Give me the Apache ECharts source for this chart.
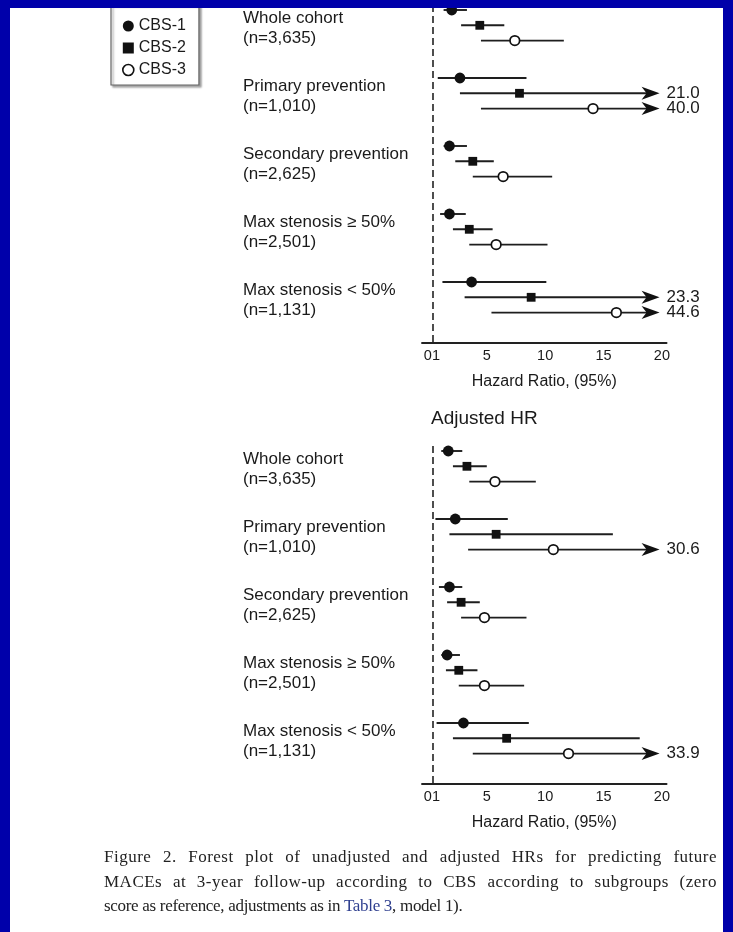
<!DOCTYPE html>
<html>
<head>
<meta charset="utf-8">
<script src="https://cdn.jsdelivr.net/npm/echarts@6/dist/echarts.min.js"></script>
<style>
  html, body { margin: 0; padding: 0; background: #fff; }
  #chart { position: absolute; left: 0; top: 0; width: 733px; height: 932px; }
  #caption {
    position: absolute; left: 104px; top: 845px; width: 613px;
    font-family: "Liberation Serif", "Times New Roman", serif;
    font-size: 17px; line-height: 24.5px; color: #222;
  }
  #caption .j { text-align: justify; text-align-last: justify; letter-spacing: 0.5px; }
  #caption .l3 { letter-spacing: -0.3px; white-space: nowrap; }
  #caption .tbl { color: #2f3f8f; }
  .frame { position: absolute; background: #0000aa; z-index: 10; }
</style>
</head>
<body>
<div id="chart"></div>
<div id="caption">
  <div class="j">Figure 2. Forest plot of unadjusted and adjusted HRs for predicting future</div>
  <div class="j">MACEs at 3-year follow-up according to CBS according to subgroups (zero</div>
  <div class="l3">score as reference, adjustments as in <span class="tbl">Table 3</span>, model 1).</div>
</div>
<div class="frame" style="left:0;top:0;width:733px;height:8px;"></div>
<div class="frame" style="left:0;top:0;width:10px;height:932px;"></div>
<div class="frame" style="left:723px;top:0;width:10px;height:932px;"></div>
<script>
// ---------- data ----------
const groups = ['Whole cohort', 'Primary prevention', 'Secondary prevention', 'Max stenosis \u2265 50%', 'Max stenosis < 50%'];
const groupN = ['(n=3,635)', '(n=1,010)', '(n=2,625)', '(n=2,501)', '(n=1,131)'];
const levels = ['CBS-1', 'CBS-2', 'CBS-3'];

// Unadjusted HR (top panel)
const unadjCBS1_HR = [2.0, 2.7, 1.8, 1.8, 3.7];
const unadjCBS1_lo = [1.3, 0.8, 1.3, 1.0, 1.2];
const unadjCBS1_hi = [3.3, 8.4, 3.3, 3.2, 10.1];
const unadjCBS2_HR = [4.4, 7.8, 3.8, 3.5, 8.8];
const unadjCBS2_lo = [2.8, 2.7, 2.3, 2.1, 3.1];
const unadjCBS2_hi = [6.5, 21.0, 5.6, 5.5, 23.3];
const unadjCBS3_HR = [7.4, 14.1, 6.4, 5.8, 16.1];
const unadjCBS3_lo = [4.5, 4.5, 3.8, 3.5, 5.4];
const unadjCBS3_hi = [11.6, 40.0, 10.6, 10.2, 44.6];

// Adjusted HR (bottom panel)
const adjCBS1_HR = [1.7, 2.3, 1.8, 1.6, 3.0];
const adjCBS1_lo = [1.1, 0.6, 0.9, 1.1, 0.7];
const adjCBS1_hi = [2.9, 6.8, 2.9, 2.7, 8.6];
const adjCBS2_HR = [3.3, 5.8, 2.8, 2.6, 6.7];
const adjCBS2_lo = [2.1, 1.8, 1.6, 1.5, 2.1];
const adjCBS2_hi = [5.0, 15.8, 4.4, 4.2, 18.1];
const adjCBS3_HR = [5.7, 10.7, 4.8, 4.8, 12.0];
const adjCBS3_lo = [3.5, 3.4, 2.8, 2.6, 3.8];
const adjCBS3_hi = [9.2, 30.6, 8.4, 8.2, 33.9];

// axis ticks
const xTickValues = [0.3, 5, 10, 15, 20];
const xTickLabels = ['01', '5', '10', '15', '20'];
const refLineX = 0.4;
const xAxisName = 'Hazard Ratio, (95%)';
const panel2Title = 'Adjusted HR';

// ---------- layout ----------
const FONT = '"Liberation Sans", Arial, Helvetica, sans-serif';
const INK = '#1a1a1a';
const ROW_PX = 15.3;
const GROUP_STEP = 68 / ROW_PX;
const ARROW_MAX = 19.8;
const X_MIN = -0.55, X_MAX = 20.4;
const PX_PER_UNIT = 11.674;
const GRID_LEFT = 422;
const GRID_W = (X_MAX - X_MIN) * PX_PER_UNIT;
const GRID_H = 337.3;
const Y_MIN = -5 / ROW_PX, Y_MAX = 332.3 / ROW_PX;
const panelTops = [5, 446];

const panels = [
  { hr: [unadjCBS1_HR, unadjCBS2_HR, unadjCBS3_HR], lo: [unadjCBS1_lo, unadjCBS2_lo, unadjCBS3_lo], hi: [unadjCBS1_hi, unadjCBS2_hi, unadjCBS3_hi] },
  { hr: [adjCBS1_HR, adjCBS2_HR, adjCBS3_HR], lo: [adjCBS1_lo, adjCBS2_lo, adjCBS3_lo], hi: [adjCBS1_hi, adjCBS2_hi, adjCBS3_hi] }
];

function ciRender(k) {
  return function (params, api) {
    const hr = api.value(0), y = api.value(1), lo = api.value(2), hi = api.value(3);
    const pLo = api.coord([lo, y]);
    const pHi = api.coord([Math.min(hi, ARROW_MAX), y]);
    const pHr = api.coord([hr, y]);
    const cy = pHr[1];
    const children = [{
      type: 'line',
      shape: { x1: pLo[0], y1: cy, x2: pHi[0] - (hi > ARROW_MAX ? 8 : 0), y2: cy },
      style: { stroke: '#1e1e1e', lineWidth: 1.9 }
    }];
    if (hi > ARROW_MAX) {
      const t = pHi[0];
      children.push({
        type: 'polygon',
        shape: { points: [[t, cy], [t - 18, cy - 6.5], [t - 13, cy], [t - 18, cy + 6.5]] },
        style: { fill: '#111' }
      });
      children.push({
        type: 'text',
        style: { x: t + 7, y: cy, text: hi.toFixed(1), font: '17px ' + FONT, fill: INK, align: 'left', verticalAlign: 'middle' }
      });
    }
    if (k === 0) {
      children.push({ type: 'circle', shape: { cx: pHr[0], cy: cy, r: 5.4 }, style: { fill: '#111' } });
    } else if (k === 1) {
      children.push({ type: 'rect', shape: { x: pHr[0] - 4.4, y: cy - 4.4, width: 8.8, height: 8.8 }, style: { fill: '#111' } });
    } else {
      children.push({ type: 'circle', shape: { cx: pHr[0], cy: cy, r: 4.8 }, style: { fill: '#fff', stroke: '#111', lineWidth: 1.7 } });
    }
    return { type: 'group', children: children };
  };
}

function labelRender(params, api) {
  const g = api.value(2);
  const p = api.coord([0, api.value(1)]);
  return {
    type: 'text',
    style: {
      x: 243, y: p[1] + 18.5,
      text: groups[g] + '\n' + groupN[g],
      font: '17px ' + FONT, fill: INK, lineHeight: 20,
      align: 'left', verticalAlign: 'middle'
    }
  };
}

const grid = [], xAxis = [], yAxis = [], series = [];
panels.forEach((pn, pi) => {
  grid.push({ left: GRID_LEFT, width: GRID_W, top: panelTops[pi], height: GRID_H });
  xAxis.push({
    gridIndex: pi, type: 'value', min: X_MIN, max: X_MAX,
    axisLine: { show: true, onZero: false, lineStyle: { color: '#222', width: 1.9 } },
    axisTick: { show: false }, splitLine: { show: false },
    axisLabel: {
      customValues: xTickValues,
      formatter: v => xTickLabels[xTickValues.indexOf(v)] ?? String(v),
      fontSize: 14.5, color: INK, margin: 6, fontFamily: FONT
    },
    name: xAxisName, nameLocation: 'middle', nameGap: 31,
    nameTextStyle: { fontSize: 16, color: INK, fontFamily: FONT }
  });
  yAxis.push({ gridIndex: pi, type: 'value', inverse: true, min: Y_MIN, max: Y_MAX, show: false });

  levels.forEach((lv, k) => {
    const data = groups.map((_, g) => [pn.hr[k][g], g * GROUP_STEP + k, pn.lo[k][g], pn.hi[k][g]]);
    const s = {
      type: 'custom', name: lv, xAxisIndex: pi, yAxisIndex: pi, clip: false,
      encode: { x: [0, 2, 3], y: 1 },
      renderItem: ciRender(k), data: data, silent: true
    };
    if (k === 0) {
      s.markLine = {
        silent: true, symbol: 'none', label: { show: false },
        lineStyle: { type: [7, 4], color: '#222', width: 1.6 },
        data: [{ xAxis: refLineX }]
      };
    }
    series.push(s);
  });
  series.push({
    type: 'custom', name: 'labels' + pi, xAxisIndex: pi, yAxisIndex: pi, clip: false, silent: true,
    encode: { x: 0, y: 1 },
    renderItem: labelRender,
    data: groups.map((_, g) => [0, g * GROUP_STEP, g])
  });
});

const chart = echarts.init(document.getElementById('chart'), null, { renderer: 'canvas' });
chart.setOption({
  animation: false,
  backgroundColor: '#fff',
  grid: grid, xAxis: xAxis, yAxis: yAxis, series: series,
  legend: {
    orient: 'vertical', left: 111, top: 5,
    padding: [13, 13, 7, 11], itemGap: 6, itemWidth: 11, itemHeight: 11,
    backgroundColor: '#fff', borderColor: '#666', borderWidth: 1.2,
    shadowColor: 'rgba(0,0,0,0.35)', shadowOffsetX: 2, shadowOffsetY: 2, shadowBlur: 2,
    textStyle: { fontSize: 16, color: INK, fontFamily: FONT },
    selectedMode: false,
    data: [
      { name: 'CBS-1', icon: 'circle', itemStyle: { color: '#111' } },
      { name: 'CBS-2', icon: 'path://M0,0h10v10h-10z', itemStyle: { color: '#111' } },
      { name: 'CBS-3', icon: 'circle', itemStyle: { color: '#fff', borderColor: '#111', borderWidth: 1.6 } }
    ]
  },
  graphic: [{
    type: 'text', left: 431, top: 409,
    style: { text: panel2Title, font: '19px ' + FONT, fill: INK }
  }]
});
</script>
</body>
</html>
